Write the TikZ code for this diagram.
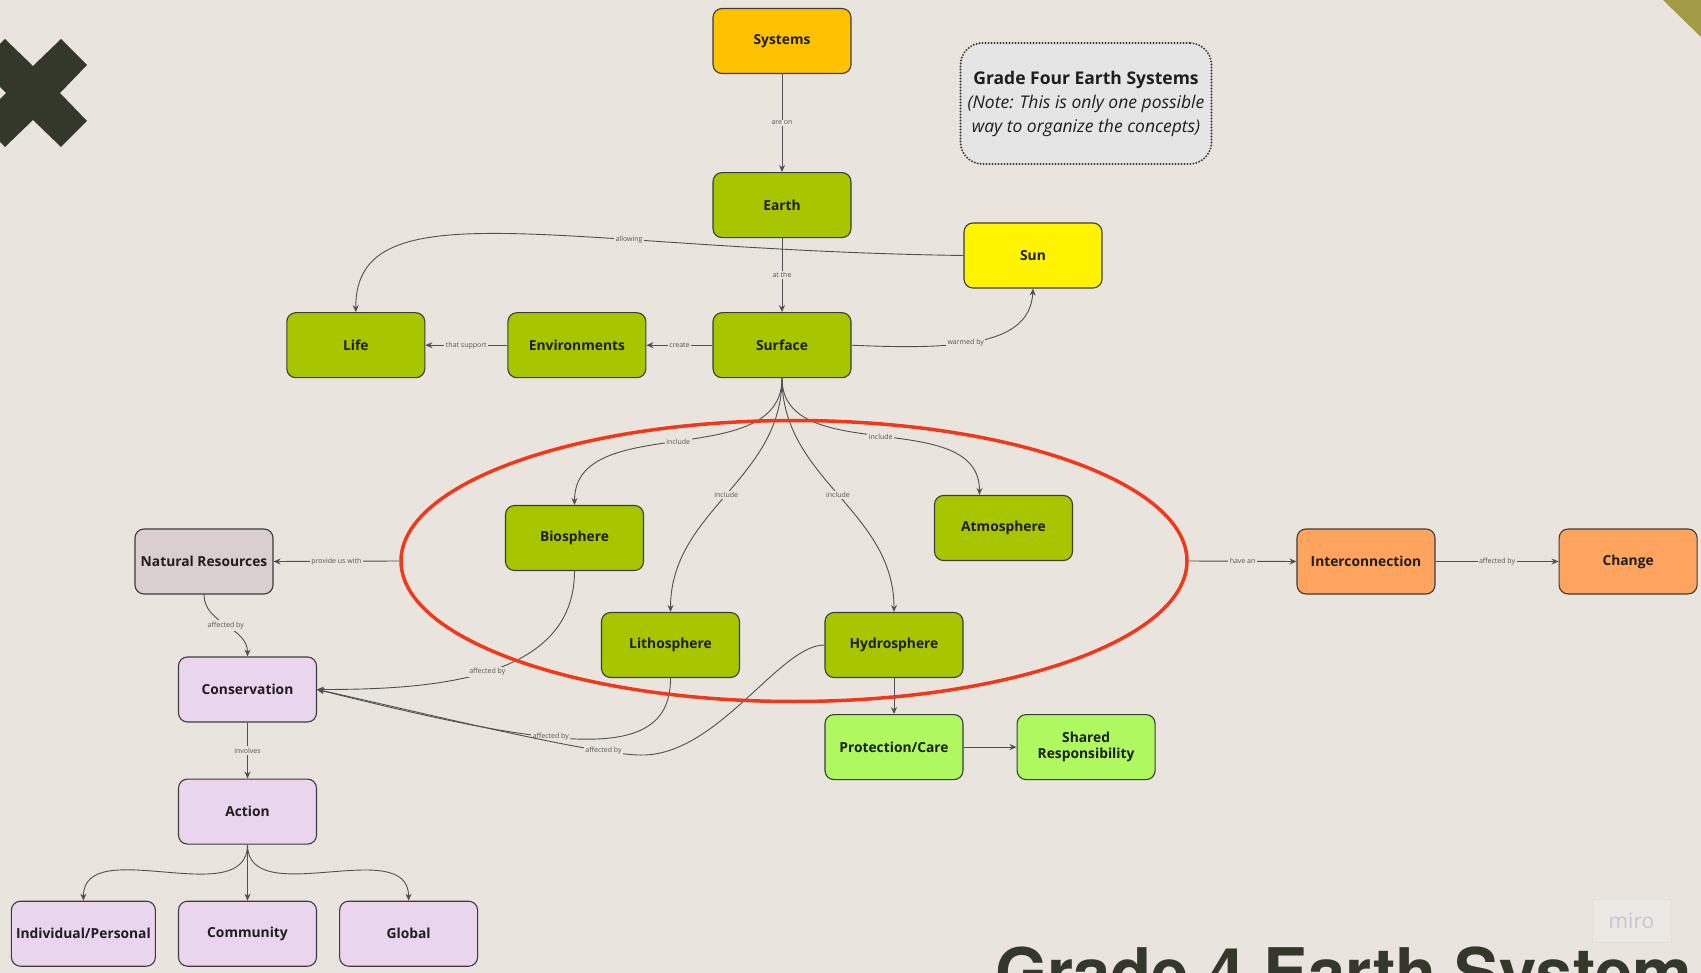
\documentclass[tikz,border=0pt]{standalone}
\usepackage{fontspec}
\setmainfont{Open Sans}
\newfontfamily\herosfont{TeX Gyre Heros}
\usepackage{xcolor}
\usepackage{tikz}
\usetikzlibrary{shapes,arrows.meta,positioning}

\definecolor{paper}{HTML}{E9E5DE}
\definecolor{boxline}{HTML}{3C3C3C}
\definecolor{boxtext}{HTML}{1E1E1E}
\definecolor{edgegrey}{HTML}{505050}
\definecolor{lblgrey}{HTML}{555555}
\definecolor{sysorange}{HTML}{FEC200}
\definecolor{leaf}{HTML}{A8C600}
\definecolor{sunyellow}{HTML}{FFF300}
\definecolor{resource}{HTML}{D9CFCE}
\definecolor{lilac}{HTML}{EAD5EE}
\definecolor{peach}{HTML}{FFA45F}
\definecolor{lime}{HTML}{AFF85F}
\definecolor{notegrey}{HTML}{E6E5E5}
\definecolor{ringred}{HTML}{F2381A}
\definecolor{inkdark}{HTML}{33382A}
\definecolor{cornergold}{HTML}{A39A45}
\definecolor{mirogrey}{HTML}{C6C4CF}
\definecolor{mirobg}{HTML}{ECE9E4}
\definecolor{miroline}{HTML}{E2DFD9}

\begin{document}
\begin{tikzpicture}[
    x=1pt, y=1pt,
    box/.style={rectangle, draw=boxline, line width=1.1pt, rounded corners=9pt, minimum width=138pt, minimum height=65pt, text centered, text=boxtext, font=\bfseries\fontsize{13.8}{16.5}\selectfont},
    note/.style={rectangle, draw=boxline, fill=notegrey, rounded corners=22pt, line width=2.2pt, dash pattern=on 0pt off 3pt, line cap=round, minimum width=251pt, minimum height=121pt, align=center, text=boxtext, font=\fontsize{17.5}{24}\selectfont},
    ring/.style={ellipse, draw=ringred, line width=3.5pt, minimum width=786pt, minimum height=281pt, inner sep=0pt},
    link/.style={-{Stealth[length=7pt,width=6pt]}, draw=edgegrey, line width=0.9pt},
    lbl/.style={fill=paper, inner sep=1.5pt, text=lblgrey, font=\fontsize{7}{8}\selectfont}
]
    \useasboundingbox (0,0) rectangle (1701,-973);
    \fill[paper] (0,0) rectangle (1701,-973);
    \clip (0,0) rectangle (1701,-973);

    \fill[inkdark, shift={(33,-93)}] (0,27) -- (28,54) -- (54,28) -- (27,0) -- (54,-28) -- (28,-54) -- (0,-27) -- (-28,-54) -- (-54,-28) -- (-27,0) -- (-54,28) -- (-28,54) -- cycle;
    \fill[cornergold] (1663,0) -- (1701,0) -- (1701,-37) -- cycle;

    \node[box, fill=sysorange] (systems) at (782,-41) {Systems};
    \node[box, fill=leaf, below=98pt of systems] (earth) {Earth};
    \node[box, fill=leaf, below=74pt of earth] (surface) {Surface};
    \node[box, fill=leaf, left=66pt of surface] (environments) {Environments};
    \node[box, fill=leaf, left=82pt of environments] (life) {Life};
    \node[box, fill=sunyellow] (sun) at (1033,-255.5) {Sun};
    \node[note] (note) at (1086,-103.5) {\textbf{Grade Four Earth Systems}\\\textit{(Note: This is only one possible}\\\textit{way to organize the concepts)}};

    \node[box, fill=leaf] (biosphere) at (574.5,-538) {Biosphere};
    \node[box, fill=leaf] (atmosphere) at (1003.5,-528) {Atmosphere};
    \node[box, fill=leaf] (lithosphere) at (670.5,-645) {Lithosphere};
    \node[box, fill=leaf] (hydrosphere) at (894,-645) {Hydrosphere};
    \node[box, fill=lime, below=36pt of hydrosphere] (protection) {Protection/Care};
    \node[box, fill=lime, right=53pt of protection, align=center] (shared) {Shared\\Responsibility};

    \node[box, fill=resource] (natres) at (204,-561.5) {Natural Resources};
    \node[box, fill=lilac] (conservation) at (247.5,-689.5) {Conservation};
    \node[box, fill=lilac, below=56pt of conservation] (action) {Action};
    \node[box, fill=lilac, below=56pt of action] (community) {Community};
    \node[box, fill=lilac, left=22pt of community, minimum width=144pt] (individual) {Individual/Personal};
    \node[box, fill=lilac, right=22pt of community] (global) {Global};

    \node[box, fill=peach] (intercon) at (1366,-561.5) {Interconnection};
    \node[box, fill=peach, right=123pt of intercon] (change) {Change};

    \draw[link] (systems) -- node[lbl] {are on} (earth);
    \draw[link] (earth) -- node[lbl] {at the} (surface);
    \draw[link] (surface) -- node[lbl] {create} (environments);
    \draw[link] (environments) -- node[lbl] {that support} (life);
    \draw[link] (sun.west) .. controls (560,-250) and (355,-185) .. node[lbl, pos=0.33] {allowing} (life.north);
    \draw[link] (surface.east) .. controls (960,-350) and (1030,-345) .. node[lbl, pos=0.42] {warmed by} (sun.south);

    \draw[link] (surface.south) to[out=-90, in=90] node[lbl] {include} (biosphere.north);
    \draw[link] (surface.south) to[out=-90, in=90] node[lbl] {include} ([xshift=-24pt]atmosphere.north);
    \draw[link] (surface.south) to[out=-90, in=90] node[lbl] {include} (lithosphere.north);
    \draw[link] (surface.south) to[out=-90, in=90] node[lbl] {include} (hydrosphere.north);

    \draw[link] (biosphere.south) to[out=-90, in=0] node[lbl] {affected by} (conservation.east);
    \draw[link] (lithosphere.south) .. controls (671,-765) and (560,-750) .. node[lbl, pos=0.59] {affected by} (conservation.east);
    \draw[link] (hydrosphere.west) .. controls (780,-645) and (720,-752) .. (645,-755) .. controls (600,-757) and (420,-712) .. node[lbl, pos=0.2] {affected by} (conservation.east);
    \draw[link] (hydrosphere) -- (protection);
    \draw[link] (protection) -- (shared);

    \draw[link] (natres.south) to[out=-90, in=90] node[lbl] {affected by} (conservation.north);
    \draw[link] (conservation) -- node[lbl] {involves} (action);
    \draw[link] (action.south) to[out=-90, in=90] (individual.north);
    \draw[link] (action) -- (community);
    \draw[link] (action.south) to[out=-90, in=90] (global.north);

    \node[ring] (spheres) at (794,-561) {};
    \draw[link] (spheres.west) -- node[lbl] {provide us with} (natres.east);
    \draw[link] (spheres.east) -- node[lbl] {have an} (intercon.west);
    \draw[link] (intercon) -- node[lbl] {affected by} (change);

    \node[draw=miroline, fill=mirobg, minimum width=79pt, minimum height=43pt, text=mirogrey, font=\fontsize{21}{21}\selectfont] (miro) at (1631.5,-920.5) {miro};
    \node[anchor=base west, inner sep=0pt, text=inkdark, font=\herosfont\bfseries\fontsize{67}{67}\selectfont] (title) at (995,-996) {Grade 4 Earth System};
\end{tikzpicture}
\end{document}
